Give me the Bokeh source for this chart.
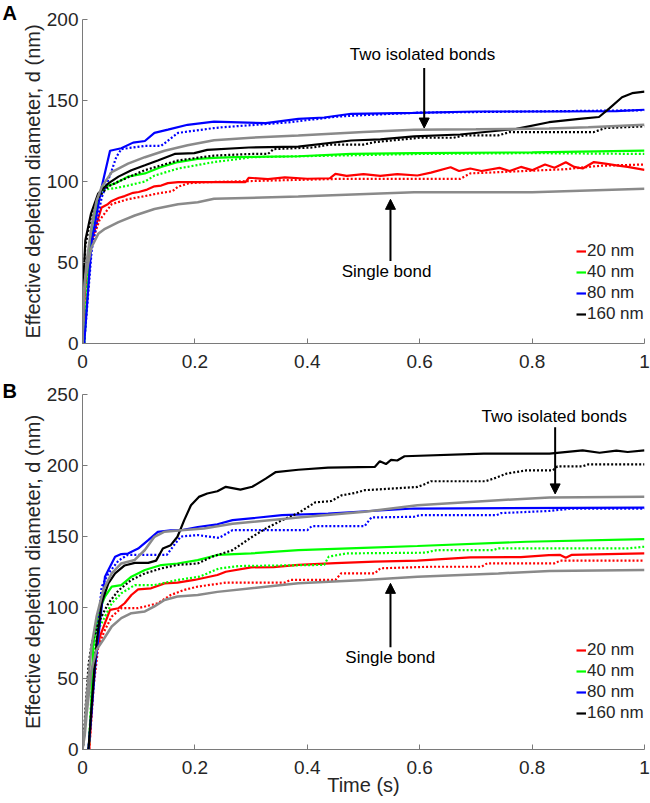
from bokeh.plotting import figure
from bokeh.layouts import column
from bokeh.models import (Range1d, FixedTicker, Legend, LegendItem, Label,
                          Arrow, NormalHead)
from bokeh.embed import file_html
from bokeh.resources import INLINE

# ---------------- Panel A data (Time in s, diameter in nm) ----------------
A_red_solid_t = [0.0, 0.004, 0.01, 0.02, 0.025, 0.034, 0.045, 0.052, 0.065, 0.075, 0.09, 0.1, 0.115, 0.128,
                 0.14, 0.152, 0.17, 0.29, 0.296, 0.33, 0.36, 0.40, 0.44, 0.45, 0.47, 0.50, 0.53, 0.56, 0.596,
                 0.62, 0.655, 0.67, 0.69, 0.71, 0.742, 0.76, 0.78, 0.80, 0.823, 0.84, 0.86, 0.875, 0.89, 0.91,
                 0.93, 0.95, 0.97, 1.0]
A_red_solid_v = [0, 30, 55, 68, 74, 84, 86, 88, 90, 91, 93, 93.5, 95, 97,
                 97.5, 99, 99.6, 99.6, 102.3, 101.5, 102.5, 101.7, 102, 104.7, 103.5, 104.5, 103.5, 104.5, 103.7,
                 105.5, 108.8, 106.5, 108, 106.5, 108.4, 106.5, 109, 107, 110.5, 108.5, 111.9, 109, 108, 112,
                 111, 110, 109, 107.2]
A_red_dot_t = [0.0, 0.004, 0.01, 0.02, 0.03, 0.052, 0.08, 0.111, 0.14, 0.16, 0.17, 0.19, 0.22, 0.455, 0.672,
               0.69, 0.86, 0.92, 1.0]
A_red_dot_v = [0, 28, 52, 66, 76, 86, 89, 91, 93, 94, 96.8, 99, 99.6, 101.6, 101.6,
               105, 107.6, 109.7, 110.5]
A_green_solid_t = [0.003, 0.0165, 0.028, 0.037, 0.058, 0.081, 0.111, 0.14, 0.17, 0.205, 0.234, 0.27, 0.384,
                   0.478, 0.59, 0.8, 1.0]
A_green_solid_v = [0, 71.8, 90, 96.5, 98.8, 103, 105, 109, 112, 114, 114.6, 115, 115.6,
                   117, 117.5, 118, 119]
A_green_dot_t = [0.003, 0.012, 0.02, 0.03, 0.04, 0.06, 0.081, 0.111, 0.128, 0.17, 0.234, 0.27, 0.3, 0.6, 0.8, 1.0]
A_green_dot_v = [0, 60, 80, 92, 95, 96, 97.5, 100, 103.6, 108, 112, 113.5, 115, 117, 117.5, 117]
A_blue_solid_t = [0.003, 0.0165, 0.034, 0.049, 0.069, 0.09, 0.111, 0.128, 0.152, 0.187, 0.234, 0.326, 0.384,
                  0.43, 0.478, 0.59, 0.7, 0.85, 0.95, 1.0]
A_blue_solid_v = [0, 63.6, 96.5, 119, 120.5, 124, 125, 130, 132, 135, 137, 136, 138.7,
                  139.5, 141.8, 142.4, 143.2, 143.2, 143.5, 144.3]
A_blue_dot_t = [0.003, 0.0165, 0.034, 0.052, 0.06, 0.069, 0.111, 0.14, 0.17, 0.234, 0.25, 0.37, 0.45, 0.5,
                0.6, 1.0]
A_blue_dot_v = [0, 58, 90, 106.8, 115, 120, 122, 122, 130, 133, 133.5, 136.6, 140, 141,
                142.5, 144]
A_black_solid_t = [0.0, 0.002, 0.005, 0.015, 0.028, 0.046, 0.064, 0.087, 0.111, 0.134, 0.164, 0.199, 0.222,
                   0.296, 0.384, 0.478, 0.53, 0.59, 0.672, 0.772, 0.83, 0.884, 0.919, 0.937, 0.96, 0.978, 1.0]
A_black_solid_v = [0, 40, 63.6, 80, 92.6, 98.8, 103, 107, 110, 113, 117, 117.5, 119.5,
                   121, 121.5, 125.3, 126, 127.8, 129, 132.5, 136.6, 138.7, 139.8, 145, 152, 154.5, 155.5]
A_black_dot_t = [0.0, 0.002, 0.005, 0.015, 0.028, 0.046, 0.064, 0.111, 0.17, 0.234, 0.3, 0.33, 0.34, 0.41,
                 0.44, 0.5, 0.52, 0.6, 0.66, 0.68, 0.74, 0.76, 0.91, 0.93, 1.0]
A_black_dot_v = [0, 38, 60, 78, 90, 97, 100, 107, 113, 116, 117, 117, 120, 121,
                 122.8, 122.8, 124.3, 127, 127, 128.5, 128.5, 130.5, 130.5, 133, 134]
A_two_bonds_t = [0.0, 0.002, 0.0076, 0.016, 0.025, 0.034, 0.052, 0.081, 0.111, 0.146, 0.187, 0.234, 0.3,
                 0.384, 0.5, 0.59, 0.7, 0.83, 0.9, 1.0]
A_two_bonds_v = [0, 30, 51, 72, 88, 96.5, 105.8, 111, 115, 119, 122.4, 125.4, 127,
                 128.4, 130.5, 131.9, 132.2, 132.7, 133.5, 135]
A_single_t = [0.0, 0.002, 0.005, 0.016, 0.028, 0.04, 0.064, 0.093, 0.128, 0.17, 0.205, 0.234, 0.384, 0.59,
              0.8, 1.0]
A_single_v = [0, 25, 41, 59.4, 67.7, 70.8, 74.9, 79, 83, 86, 87.2, 89.3, 90.7, 93.4,
              93.4, 95.5]

# ---------------- Panel B data ----------------
B_red_solid_t = [0.012, 0.018, 0.022, 0.031, 0.04, 0.049, 0.064, 0.075, 0.087, 0.099, 0.122, 0.146, 0.169,
                 0.199, 0.24, 0.255, 0.3, 0.34, 0.384, 0.45, 0.52, 0.596, 0.69, 0.78, 0.83, 0.85, 0.86, 0.87, 1.0]
B_red_solid_v = [0, 40, 63, 79.6, 89, 98.3, 99.5, 103, 108.8, 112.8, 113.5, 117, 117.5,
                 119.4, 122.9, 125.2, 128.3, 128.5, 130, 131.2, 132.3, 133, 135.3, 135.5, 136.9, 137, 135, 137, 138.1]
B_red_dot_t = [0.012, 0.02, 0.028, 0.04, 0.052, 0.069, 0.099, 0.134, 0.157, 0.181, 0.205, 0.255, 0.36, 0.37,
               0.45, 0.46, 0.52, 0.53, 0.62, 0.71, 0.72, 0.84, 0.85, 1.0]
B_red_dot_v = [0, 45, 72.6, 84.3, 93.6, 99.5, 99.5, 103, 108.8, 112.4, 114.7, 117.5, 117.5, 119.4,
               119.4, 124, 124, 127.6, 128.7, 128.7, 131.1, 131.1, 133, 133]
B_green_solid_t = [0.011, 0.015, 0.019, 0.028, 0.04, 0.052, 0.069, 0.087, 0.111, 0.14, 0.169, 0.205, 0.24,
                   0.3, 0.384, 0.5, 0.596, 0.79, 1.0]
B_green_solid_v = [0, 25.5, 72.6, 96, 107.6, 114.7, 115.8, 121.7, 126.4, 129.9, 131, 133.4, 137,
                   138.1, 140.4, 142, 143.3, 146.3, 148.2]
B_green_dot_t = [0.011, 0.016, 0.022, 0.04, 0.052, 0.069, 0.093, 0.128, 0.169, 0.208, 0.243, 0.279, 0.43,
                 0.438, 0.47, 0.61, 0.63, 0.73, 0.74, 0.97, 1.0]
B_green_dot_v = [0, 40, 79.6, 93.6, 103, 110, 115.8, 115.8, 119.4, 121.7, 127.5, 129.2, 130,
                 135.8, 138.1, 138.6, 140.4, 140.4, 141.6, 141.6, 142.8]
B_blue_solid_t = [0.0106, 0.0165, 0.022, 0.031, 0.04, 0.046, 0.058, 0.069, 0.081, 0.099, 0.117, 0.134, 0.157,
                  0.175, 0.205, 0.24, 0.267, 0.355, 0.437, 0.59, 1.0]
B_blue_solid_v = [0, 28, 56, 89, 121.7, 126.4, 135.7, 137.6, 138, 141.5, 147.4, 153.2, 154.4,
                  154.4, 156.7, 158.6, 161.5, 165, 166.2, 169.7, 170.4]
B_blue_dot_t = [0.0106, 0.0165, 0.025, 0.034, 0.046, 0.064, 0.08, 0.15, 0.165, 0.175, 0.205, 0.243, 0.267,
                0.40, 0.408, 0.502, 0.514, 0.59, 0.6, 0.737, 0.745, 0.831, 0.87, 1.0]
B_blue_dot_v = [0, 30, 75, 114.5, 124, 133, 137, 137, 145, 150, 151, 149, 154.5,
                154.5, 157.3, 157.3, 163.4, 163.9, 165, 165, 166.5, 168, 169.7, 169.7]
B_black_solid_t = [0.0106, 0.018, 0.025, 0.034, 0.046, 0.058, 0.075, 0.093, 0.117, 0.131, 0.143, 0.157, 0.169,
                   0.181, 0.193, 0.207, 0.222, 0.24, 0.255, 0.281, 0.302, 0.326, 0.344, 0.384, 0.437, 0.52,
                   0.529, 0.54, 0.549, 0.56, 0.573, 0.714, 0.831, 0.89, 0.92, 0.95, 0.97, 1.0]
B_black_solid_v = [0, 40, 75, 103, 117, 124, 129.6, 131.4, 131.4, 133, 141.5, 143.9, 149.8,
                   161.5, 172, 177.9, 180.3, 181.9, 185, 183, 185, 190.8, 195.4, 197, 198.5, 199,
                   203, 201, 204, 203.5, 206.5, 208.3, 208.3, 210.7, 209, 210.5, 209.5, 210.7]
B_black_dot_t = [0.0, 0.002, 0.0047, 0.011, 0.0165, 0.028, 0.046, 0.064, 0.087, 0.111, 0.14, 0.169, 0.205,
                 0.231, 0.267, 0.302, 0.326, 0.355, 0.384, 0.414, 0.443, 0.461, 0.485, 0.502, 0.549, 0.596,
                 0.61, 0.62, 0.717, 0.731, 0.755, 0.79, 0.837, 0.845, 0.89, 0.9, 1.0]
B_black_dot_v = [0, 4.7, 25.6, 60.8, 75, 89, 103, 112, 119.4, 124, 127.5, 130, 131,
                 135.8, 140.4, 149.8, 155.6, 161.5, 166.5, 174, 175, 179, 180.7, 182.6, 183.7, 184.9,
                 187, 188.9, 188.9, 190.7, 194.3, 196.6, 196.6, 199.4, 199.4, 200.8, 200.8]
B_two_bonds_t = [0.0, 0.004, 0.0076, 0.016, 0.025, 0.037, 0.052, 0.069, 0.093, 0.111, 0.128, 0.146, 0.181,
                 0.216, 0.267, 0.384, 0.502, 0.596, 0.74, 0.831, 1.0]
B_two_bonds_v = [0, 15, 37.5, 72.6, 93.6, 112.4, 124, 131, 133.5, 140.5, 149.8, 153.4, 154.5,
                 155.7, 159, 163.4, 167.4, 172, 175.6, 177.5, 178]
B_single_t = [0.0, 0.004, 0.0076, 0.016, 0.025, 0.037, 0.052, 0.069, 0.087, 0.111, 0.128, 0.146, 0.169,
              0.205, 0.24, 0.384, 0.502, 0.596, 0.74, 0.831, 1.0]
B_single_v = [0, 10, 25.7, 56, 70.2, 77.3, 86.6, 92.5, 96, 97.2, 100.8, 105.3, 107.7,
              108.8, 111, 117, 119.4, 121.7, 124, 125.7, 126.4]

legend_labels = ["20 nm", "40 nm", "80 nm", "160 nm"]
x_ticks = [0, 0.2, 0.4, 0.6, 0.8, 1]
x_tick_labels = ["0", "0.2", "0.4", "0.6", "0.8", "1"]
yA_ticks = [0, 50, 100, 150, 200]
yB_ticks = [0, 50, 100, 150, 200, 250]

FONT = "Liberation Sans"
TXT = "#262626"
AXC = "#7a7a7a"
COLORS = ["#FF0000", "#00FF00", "#0000FF", "#000000"]
GRAY = "#8a8a8a"


def style_axes(p, yticks, show_xlabel):
    p.xaxis.ticker = FixedTicker(ticks=x_ticks)
    p.xaxis.major_label_overrides = {t: s for t, s in zip(x_ticks, x_tick_labels)}
    p.yaxis.ticker = FixedTicker(ticks=yticks)
    for ax in (p.xaxis[0], p.yaxis[0]):
        ax.axis_line_color = AXC
        ax.axis_line_width = 1
        ax.major_tick_line_color = AXC
        ax.major_tick_in = 5
        ax.major_tick_out = 0
        ax.minor_tick_line_color = None
        ax.major_label_text_font = FONT
        ax.major_label_text_font_size = "19px"
        ax.major_label_text_color = TXT
        ax.axis_label_text_font = FONT
        ax.axis_label_text_font_size = "20px"
        ax.axis_label_text_font_style = "normal"
        ax.axis_label_text_color = TXT
    p.yaxis.major_label_standoff = 4
    p.yaxis.axis_label = "Effective depletion diameter, d (nm)"
    p.yaxis.axis_label_standoff = 0
    p.xaxis.major_label_standoff = 11
    if show_xlabel:
        p.xaxis.axis_label = "Time (s)"
        p.xaxis.axis_label_standoff = -3
    p.xgrid.visible = False
    p.ygrid.visible = False
    p.outline_line_color = None


def make_panel(series, ymax, yticks, height, top, bottom, letter, letter_standoff,
               two_txt, two_arrow, single_txt, single_arrow, legend_xy, show_xlabel):
    p = figure(width=650, height=height, x_range=Range1d(0, 1), y_range=Range1d(0, ymax),
               output_backend="svg", toolbar_location=None, title=letter,
               min_border_left=82, min_border_right=6, min_border_top=top, min_border_bottom=bottom)
    p.title.align = "left"
    p.title.offset = -80
    p.title.standoff = letter_standoff
    p.title.vertical_align = "bottom"
    p.title.text_font = FONT
    p.title.text_font_size = "20px"
    p.title.text_font_style = "bold"
    p.title.text_color = "black"
    style_axes(p, yticks, show_xlabel)
    items = []
    for i, (ts, vs, td, vd) in enumerate(series["colored"]):
        r = p.line(ts, vs, line_color=COLORS[i], line_width=2.2)
        p.line(td, vd, line_color=COLORS[i], line_width=2.2, line_dash="2 2")
        items.append(LegendItem(label=legend_labels[i], renderers=[r]))
    for (tg, vg) in series["gray"]:
        p.line(tg, vg, line_color=GRAY, line_width=2.5)

    leg = Legend(items=items, location=legend_xy, glyph_width=10, glyph_height=20, label_height=20,
                 label_standoff=1, spacing=1, padding=0, margin=0,
                 label_text_font=FONT, label_text_font_size="17px", label_text_color=TXT,
                 border_line_alpha=0, background_fill_alpha=0)
    p.add_layout(leg)

    p.add_layout(Label(x=two_txt[0], y=two_txt[1], text="Two isolated bonds", text_align="center",
                       text_baseline="middle", text_font=FONT, text_font_size="17px", text_color="black"))
    p.add_layout(Label(x=single_txt[0], y=single_txt[1], text="Single bond", text_align="center",
                       text_baseline="middle", text_font=FONT, text_font_size="17px", text_color="black"))
    for (xa, y0, y1) in (two_arrow, single_arrow):
        p.add_layout(Arrow(end=NormalHead(size=10, fill_color="black", line_color="black"),
                           x_start=xa, y_start=y0, x_end=xa, y_end=y1, line_color="black", line_width=2))
    return p


seriesA = {
    "colored": [
        (A_red_solid_t, A_red_solid_v, A_red_dot_t, A_red_dot_v),
        (A_green_solid_t, A_green_solid_v, A_green_dot_t, A_green_dot_v),
        (A_blue_solid_t, A_blue_solid_v, A_blue_dot_t, A_blue_dot_v),
        (A_black_solid_t, A_black_solid_v, A_black_dot_t, A_black_dot_v),
    ],
    "gray": [(A_two_bonds_t, A_two_bonds_v), (A_single_t, A_single_v)],
}
seriesB = {
    "colored": [
        (B_red_solid_t, B_red_solid_v, B_red_dot_t, B_red_dot_v),
        (B_green_solid_t, B_green_solid_v, B_green_dot_t, B_green_dot_v),
        (B_blue_solid_t, B_blue_solid_v, B_blue_dot_t, B_blue_dot_v),
        (B_black_solid_t, B_black_solid_v, B_black_dot_t, B_black_dot_v),
    ],
    "gray": [(B_two_bonds_t, B_two_bonds_v), (B_single_t, B_single_v)],
}

pA = make_panel(seriesA, 200, yA_ticks, 376, 19, 33, "A", -8,
                (0.605, 178.4), (0.608, 170, 133), (0.541, 44.6), (0.548, 51, 89),
                (494, 19), False)
pB = make_panel(seriesB, 250, yB_ticks, 426, 18, 53, "B", -14,
                (0.8395, 234.6), (0.841, 227, 180), (0.5476, 64.6), (0.548, 72, 117),
                (494, 26), True)

layout = column(pA, pB, spacing=0)
open("out.html", "w").write(file_html(layout, INLINE))
